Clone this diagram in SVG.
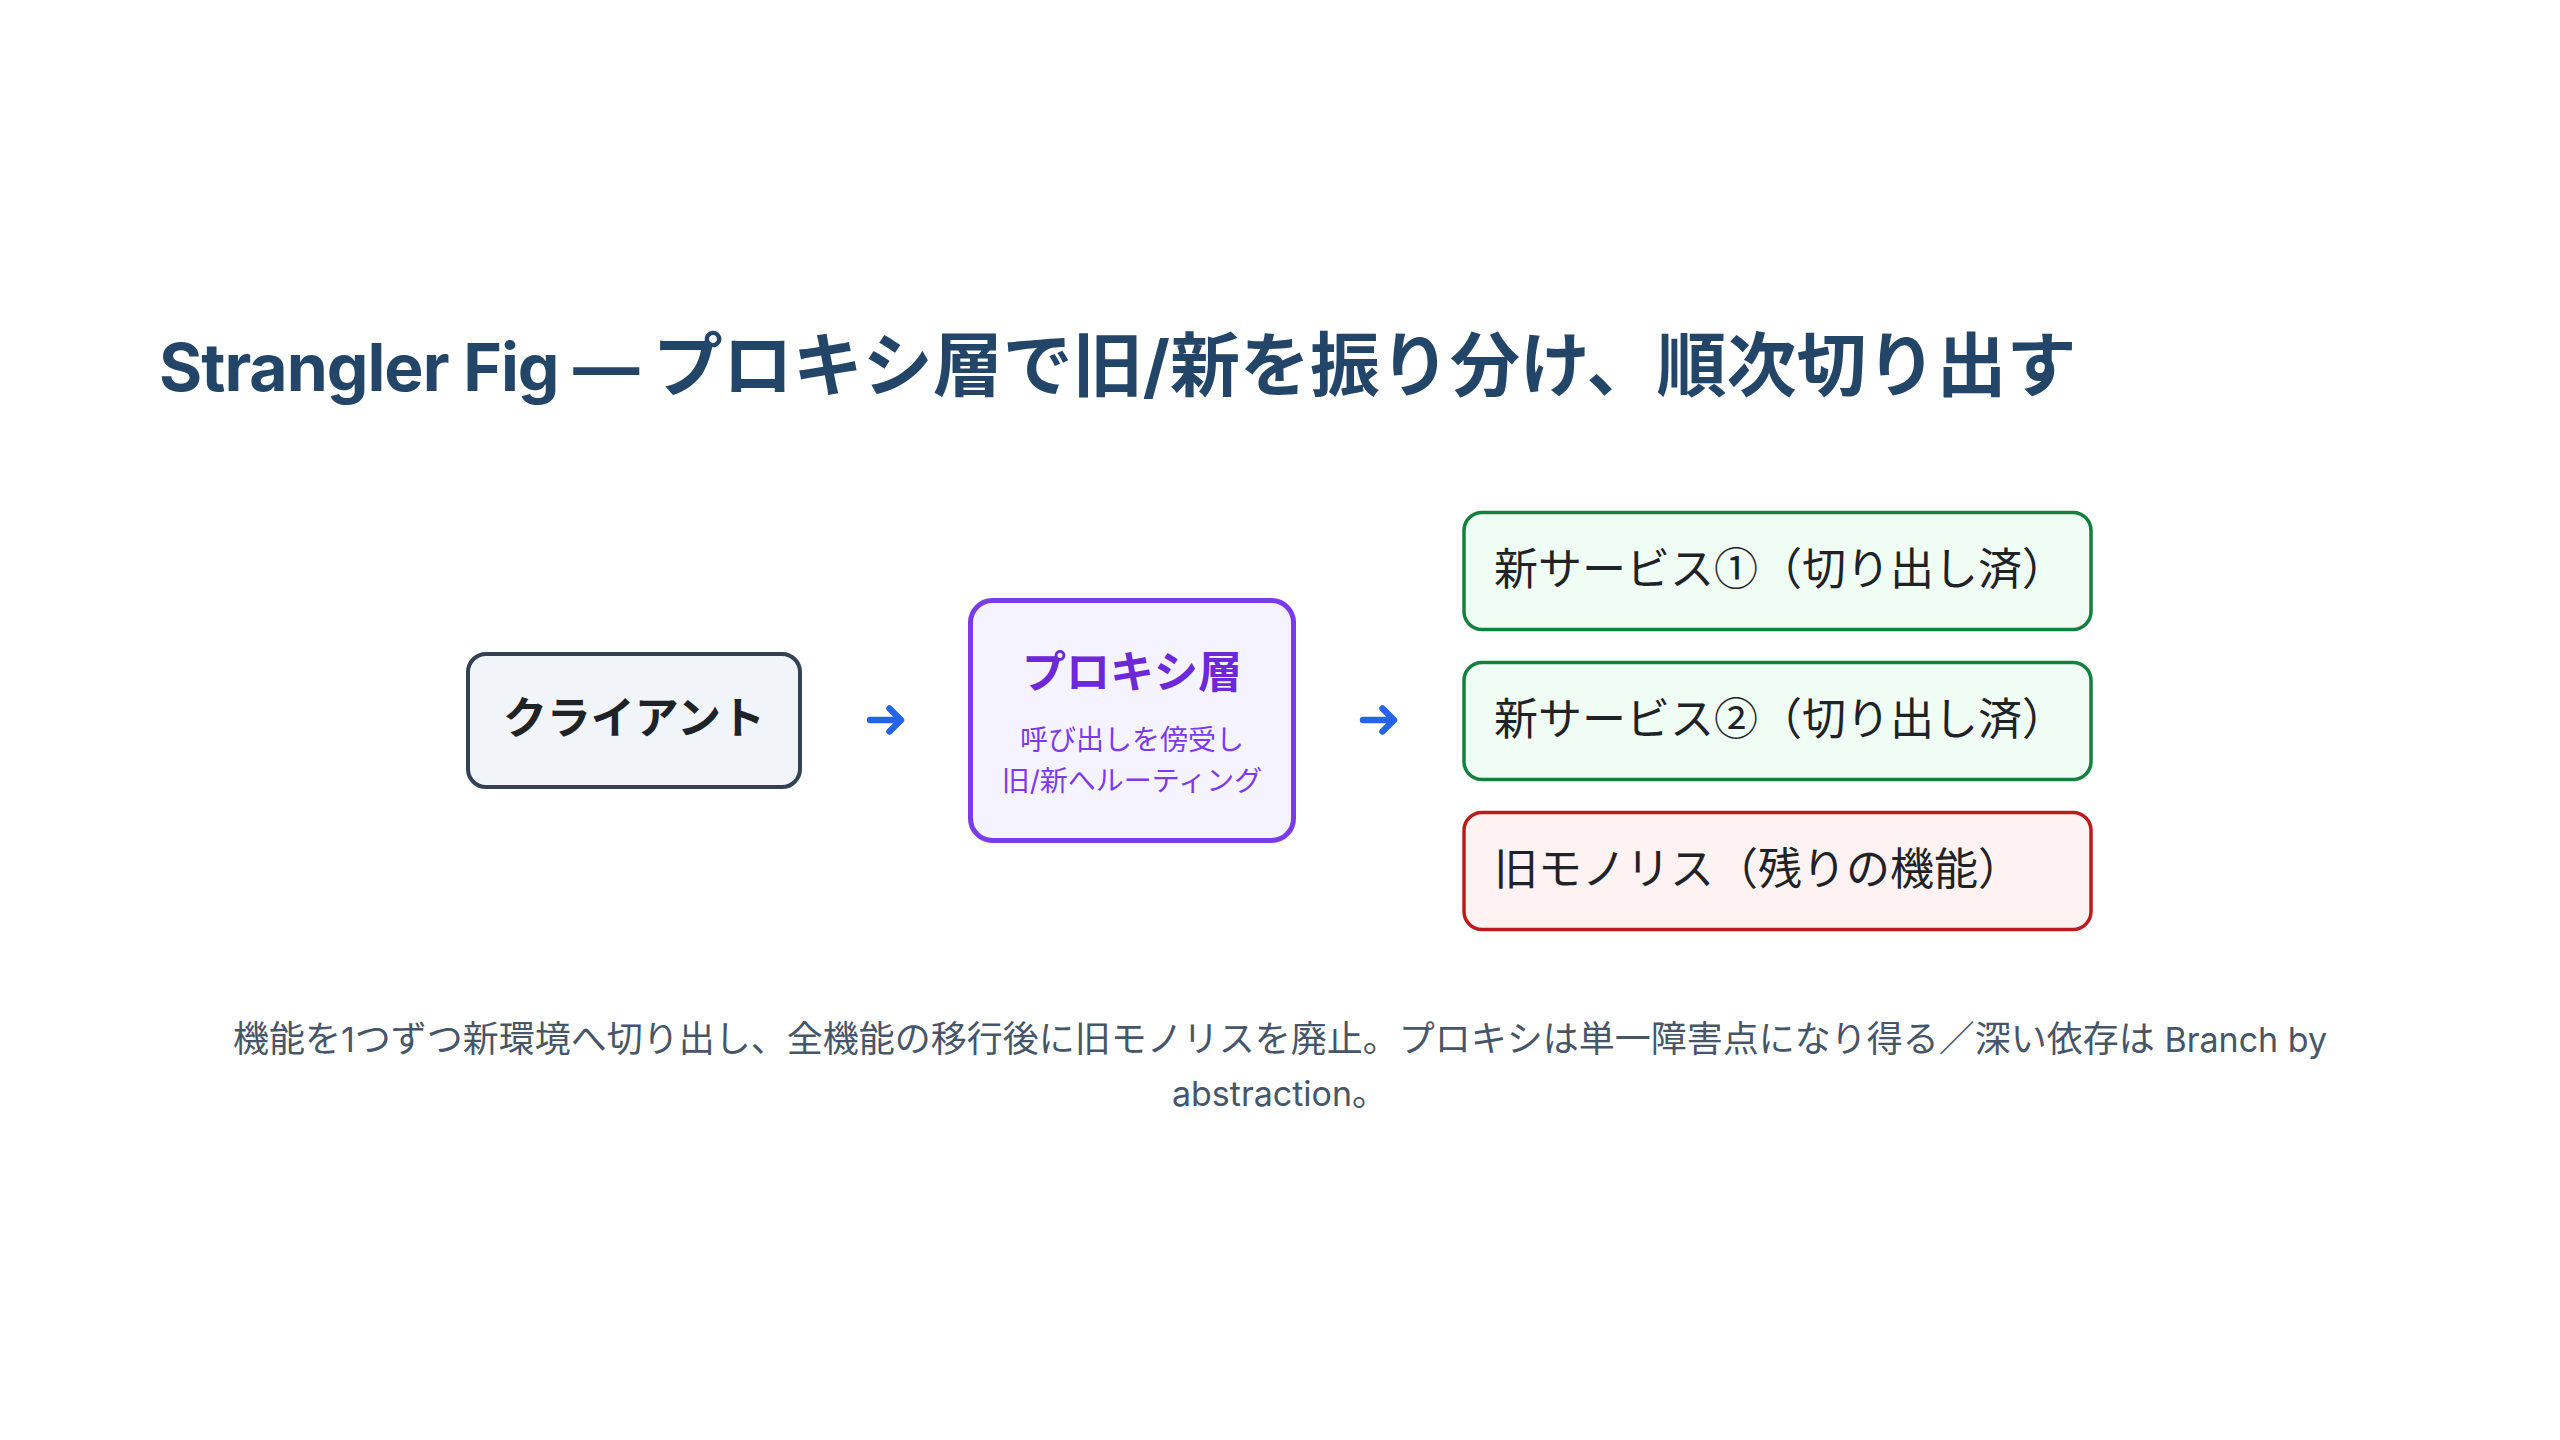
<svg xmlns="http://www.w3.org/2000/svg" width="2560" height="1440" viewBox="0 0 2560 1440">
<style>
.t{font-family:Inter,"Noto Sans CJK JP","Noto Sans",sans-serif}
.j{font-family:"Noto Sans CJK JP","Noto Sans",sans-serif}
.title{font-size:70px;font-weight:700;fill:#234567}
.lat{font-family:Inter,"Noto Sans",sans-serif;font-size:66px;letter-spacing:-1px}
.box-text{font-size:44px;font-weight:700}
.svc{font-size:44px;fill:#1f2328}
.sub{font-size:28px;fill:#7c3aed}
.foot{font-size:36px;fill:#475569}
.fl{font-family:Inter,"Noto Sans",sans-serif;font-size:34px}
.arrow{fill:none;stroke:#2563eb;stroke-width:6.5;stroke-linecap:round;stroke-linejoin:round}
</style>
<rect width="2560" height="1440" fill="#ffffff"/>
<text class="t title" x="159" y="391"><tspan class="lat">Strangler Fig — </tspan>プロキシ層で旧/新を振り分け、順次切り出す</text>
<g id="client">
<rect x="468" y="654" width="332" height="133" rx="18" fill="#f1f4f9" stroke="#334155" stroke-width="4"/>
<text class="t box-text" x="634" y="734" text-anchor="middle" fill="#1f2328">クライアント</text>
</g>
<g id="proxy">
<rect x="970.5" y="600.5" width="323" height="240" rx="22" fill="#f5f3ff" stroke="#7c3aed" stroke-width="5"/>
<text class="t box-text" x="1132" y="688" text-anchor="middle" fill="#6d28d9">プロキシ層</text>
<text class="t sub" x="1132" y="750" text-anchor="middle">呼び出しを傍受し</text>
<text class="t sub" x="1132" y="791" text-anchor="middle">旧/新へルーティング</text>
</g>
<g id="service1">
<rect x="1464" y="512.5" width="627" height="117" rx="18" fill="#f0fdf4" stroke="#15803d" stroke-width="3.5"/>
<text class="j svc" x="1494" y="585">新サービス①（切り出し済）</text>
</g>
<g id="service2">
<rect x="1464" y="662.5" width="627" height="117" rx="18" fill="#f0fdf4" stroke="#15803d" stroke-width="3.5"/>
<text class="j svc" x="1494" y="735">新サービス②（切り出し済）</text>
</g>
<g id="monolith">
<rect x="1464" y="812.5" width="627" height="117" rx="18" fill="#fef2f2" stroke="#b91c1c" stroke-width="3.5"/>
<text class="j svc" x="1494" y="885">旧モノリス（残りの機能）</text>
</g>
<g id="connectors">
<path class="arrow" d="M870 720 H900 M889.5 708.5 L901 720 L889.5 731.5"/>
<path class="arrow" d="M1363 720 H1393 M1382.5 708.5 L1394 720 L1382.5 731.5"/>
</g>
<text class="t foot" x="1280" y="1052" text-anchor="middle">機能を<tspan class="fl">1</tspan>つずつ新環境へ切り出し、全機能の移行後に旧モノリスを廃止。プロキシは単一障害点になり得る／深い依存は<tspan class="fl"> Branch by</tspan></text>
<text class="t foot" x="1280" y="1106" text-anchor="middle"><tspan class="fl">abstraction</tspan>。</text>
</svg>
